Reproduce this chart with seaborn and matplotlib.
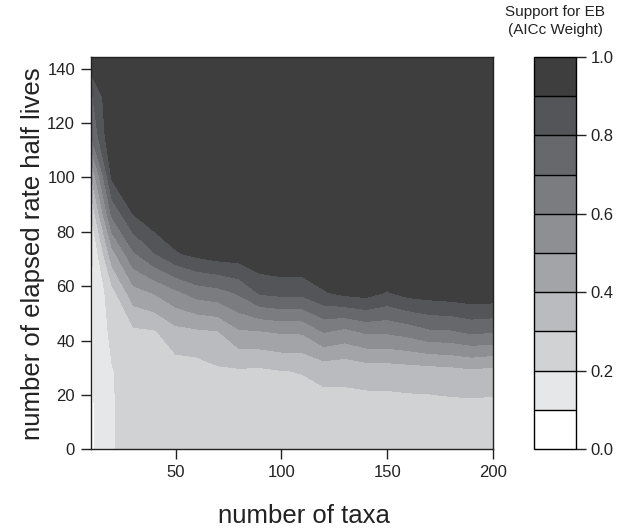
import matplotlib
import matplotlib.pyplot as plt
import numpy as np
import seaborn as sns

matplotlib.use("Agg")

# ------------------------------------------------------------
# data
# ------------------------------------------------------------
taxa = [10, 20, 30, 40, 50, 60, 70, 80, 90, 100,
        110, 120, 130, 140, 150, 160, 170, 180, 190, 200]
half_lives = [0.0, 14.43, 28.85, 43.28, 57.71, 72.13,
              86.56, 100.99, 115.42, 129.84, 144.27]

# support for EB (AICc weight), one row per half-life value
aicc_weight = [
    [0.085, 0.19, 0.25, 0.25, 0.25, 0.25, 0.26, 0.26, 0.26, 0.26,
     0.26, 0.25, 0.25, 0.25, 0.25, 0.25, 0.25, 0.25, 0.25, 0.25],
    [0.085, 0.19, 0.25, 0.25, 0.25, 0.25, 0.27, 0.27, 0.27, 0.27,
     0.27, 0.255, 0.27, 0.258, 0.256, 0.26, 0.26, 0.265, 0.262, 0.264],
    [0.085, 0.195, 0.25, 0.26, 0.25, 0.256, 0.286, 0.287, 0.282, 0.298,
     0.303, 0.33, 0.32, 0.34, 0.344, 0.351, 0.357, 0.366, 0.383, 0.368],
    [0.08, 0.229, 0.28, 0.29, 0.367, 0.382, 0.395, 0.487, 0.494, 0.511,
     0.513, 0.605, 0.572, 0.615, 0.614, 0.64, 0.683, 0.688, 0.718, 0.707],
    [0.075, 0.267, 0.461, 0.509, 0.579, 0.644, 0.666, 0.716, 0.816, 0.833,
     0.832, 0.892, 0.93, 0.943, 0.894, 0.94, 0.951, 0.962, 0.975, 0.971],
    [0.07, 0.466, 0.689, 0.799, 0.89, 0.932, 0.957, 0.96, 0.99, 1.0,
     1.0, 1.0, 1.0, 1.0, 1.0, 1.0, 1.0, 1.0, 1.0, 1.0],
    [0.20, 0.725, 0.902, 0.98, 1.0, 1.0, 1.0, 1.0, 1.0, 1.0,
     1.0, 1.0, 1.0, 1.0, 1.0, 1.0, 1.0, 1.0, 1.0, 1.0],
    [0.40, 0.928, 1.0, 1.0, 1.0, 1.0, 1.0, 1.0, 1.0, 1.0,
     1.0, 1.0, 1.0, 1.0, 1.0, 1.0, 1.0, 1.0, 1.0, 1.0],
    [0.70, 1.0, 1.0, 1.0, 1.0, 1.0, 1.0, 1.0, 1.0, 1.0,
     1.0, 1.0, 1.0, 1.0, 1.0, 1.0, 1.0, 1.0, 1.0, 1.0],
    [0.78, 1.0, 1.0, 1.0, 1.0, 1.0, 1.0, 1.0, 1.0, 1.0,
     1.0, 1.0, 1.0, 1.0, 1.0, 1.0, 1.0, 1.0, 1.0, 1.0],
    [0.99, 1.0, 1.0, 1.0, 1.0, 1.0, 1.0, 1.0, 1.0, 1.0,
     1.0, 1.0, 1.0, 1.0, 1.0, 1.0, 1.0, 1.0, 1.0, 1.0],
]

levels = [0.0, 0.1, 0.2, 0.3, 0.4, 0.5, 0.6, 0.7, 0.8, 0.9, 1.0]
x_ticks = [50, 100, 150, 200]
y_ticks = [0, 20, 40, 60, 80, 100, 120, 140]
bar_ticks = [0.0, 0.2, 0.4, 0.6, 0.8, 1.0]

band_colors = ["#ffffff", "#e6e7e8", "#d1d2d4", "#babbbe", "#a3a4a7",
               "#8e8f93", "#7b7c80", "#67686c", "#545558", "#3e3e3e"]

# ------------------------------------------------------------
# figure
# ------------------------------------------------------------
sns.set_theme(style="ticks")
plt.rcParams["font.family"] = ["Liberation Sans", "DejaVu Sans"]
plt.rcParams["text.color"] = "#222222"
plt.rcParams["axes.edgecolor"] = "#222222"
plt.rcParams["xtick.color"] = "#222222"
plt.rcParams["ytick.color"] = "#222222"

W, H = 632, 532
fig = plt.figure(figsize=(W / 100, H / 100), dpi=100)
ax = fig.add_axes([91 / W, 82.7 / H, 402 / W, 392.3 / H])
cax = fig.add_axes([534.3 / W, 83 / H, 41.4 / W, 392 / H])

palette = sns.color_palette(band_colors)
cf = ax.contourf(taxa, half_lives, np.array(aicc_weight),
                 levels=levels, colors=palette)

ax.set_xlim(taxa[0], taxa[-1])
ax.set_ylim(half_lives[0], half_lives[-1])
ax.set_xticks(x_ticks)
ax.set_yticks(y_ticks)
ax.tick_params(axis="both", direction="out", length=7.5, width=1,
               labelsize=12, pad=4)
for sp in ax.spines.values():
    sp.set_linewidth(1)
    sp.set_visible(True)

cb = fig.colorbar(cf, cax=cax, ticks=bar_ticks, drawedges=True)
cb.outline.set_edgecolor("black")
cb.outline.set_linewidth(1)
cb.dividers.set_color("black")
cb.dividers.set_linewidth(1)
cb.ax.set_yticklabels([f"{t:.1f}" for t in bar_ticks])
cb.ax.tick_params(direction="out", length=7.5, width=1, labelsize=12,
                  pad=3, colors="#222222")

fig.text(33 / W, 1 - 254 / H, "number of elapsed rate half lives",
         rotation=90, ha="center", va="center", fontsize=18.5)
fig.text(304 / W, 1 - 516 / H, "number of taxa",
         ha="center", va="center", fontsize=18.5)
fig.text(555 / W, 1 - 12 / H, "Support for EB",
         ha="center", va="center", fontsize=11)
fig.text(555 / W, 1 - 30 / H, "(AICc Weight)",
         ha="center", va="center", fontsize=11)

fig.savefig("out.png", dpi=100)
plt.close(fig)
